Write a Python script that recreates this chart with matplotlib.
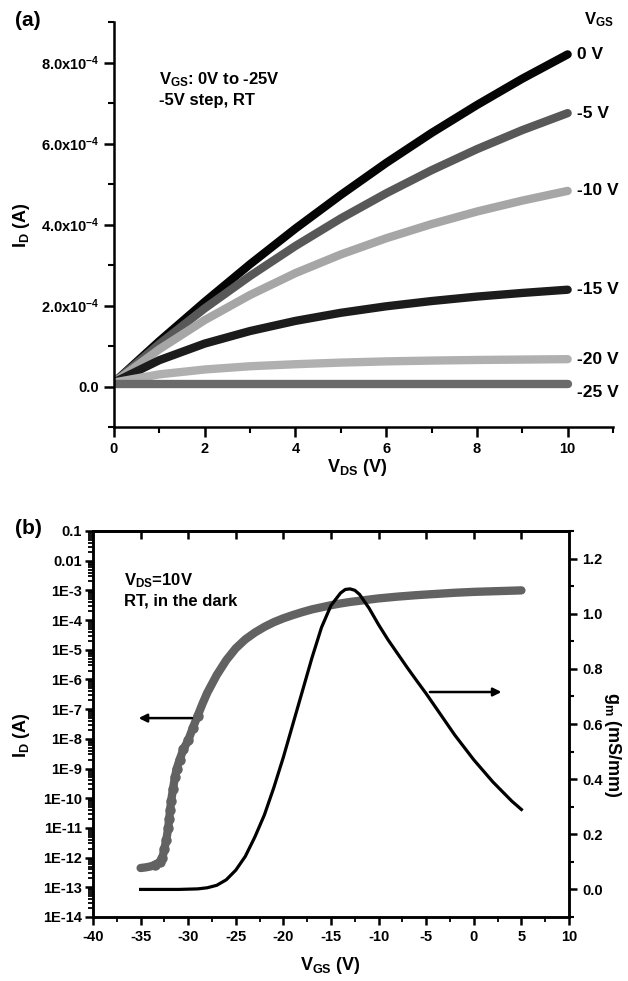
"""
Transistor output (a) and transfer (b) curves
"""
import numpy as np
import matplotlib.pyplot as plt
from matplotlib.ticker import MultipleLocator, FixedLocator, FuncFormatter, LogLocator, NullFormatter

# ---- panel (a): output curves, I_D in units of 1e-4 A ----
vds = [0, 1, 2, 3, 4, 5, 6, 7, 8, 9, 10]
vgs_labels = ["0 V", "-5 V", "-10 V", "-15 V", "-20 V", "-25 V"]
id_0 = [0.1, 1.12, 2.09, 3.02, 3.90, 4.73, 5.52, 6.26, 6.95, 7.60, 8.20]
id_m5 = [0.1, 1.05, 1.93, 2.73, 3.47, 4.15, 4.77, 5.34, 5.86, 6.33, 6.75]
id_m10 = [0.1, 0.92, 1.64, 2.26, 2.80, 3.26, 3.66, 4.01, 4.32, 4.59, 4.83]
id_m15 = [0.1, 0.65, 1.06, 1.37, 1.62, 1.82, 1.98, 2.11, 2.22, 2.31, 2.39]
id_m20 = [0.1, 0.30, 0.42, 0.50, 0.55, 0.59, 0.62, 0.64, 0.655, 0.665, 0.675]
id_m25 = [0.05, 0.05, 0.05, 0.05, 0.05, 0.05, 0.05, 0.05, 0.05, 0.05, 0.05]

# ---- panel (b): transfer curve ----
vgs_id = [-35, -34.5, -34, -33.5, -33, -32.7, -32.5, -32.3, -32.1, -32.0, -31.9,
          -31.8, -31.6, -31.4, -31.2, -30.9, -30.5, -30, -29.5, -29, -28.5, -28,
          -27, -26, -25, -24, -23, -22, -21, -20, -19, -18, -17, -16, -15, -14,
          -13, -12, -10, -8, -6, -4, -2, 0, 2, 4, 5]
log_id = [-12.35, -12.33, -12.30, -12.25, -12.15, -12.0, -11.7, -11.4, -11.0,
          -10.7, -10.4, -10.1, -9.7, -9.3, -9.0, -8.7, -8.35, -8.05, -7.62, -7.22,
          -6.82, -6.45, -5.85, -5.35, -4.95, -4.65, -4.42, -4.23, -4.07, -3.94,
          -3.83, -3.73, -3.64, -3.57, -3.50, -3.44, -3.39, -3.35, -3.27, -3.21,
          -3.16, -3.12, -3.08, -3.05, -3.03, -3.01, -3.0]

vgs_gm = [-35, -33, -31, -29, -28, -27, -26, -25, -24, -23, -22, -21, -20, -19,
          -18, -17, -16, -15, -14, -13.5, -13, -12.5, -12, -11, -10, -9, -8, -7,
          -6, -5, -4, -3, -2, -1, 0, 1, 2, 3, 4, 5]
gm = [0.0, 0.0, 0.0, 0.002, 0.006, 0.015, 0.035, 0.07, 0.12, 0.19, 0.27, 0.37,
      0.48, 0.60, 0.72, 0.84, 0.95, 1.03, 1.075, 1.088, 1.09, 1.085, 1.07, 1.02,
      0.96, 0.905, 0.855, 0.805, 0.757, 0.71, 0.66, 0.61, 0.56, 0.515, 0.47,
      0.43, 0.39, 0.355, 0.32, 0.29]

log_ticks = list(range(-14, 0))
log_tick_labels = ["1E-14", "1E-13", "1E-12", "1E-11", "1E-10", "1E-9", "1E-8",
                   "1E-7", "1E-6", "1E-5", "1E-4", "1E-3", "0.01", "0.1"]

plt.rcParams["font.family"] = ["Liberation Sans", "DejaVu Sans"]
plt.rcParams["font.weight"] = "bold"
plt.rcParams["mathtext.fontset"] = "custom"
plt.rcParams["mathtext.rm"] = "Liberation Sans:bold"
plt.rcParams["mathtext.it"] = "Liberation Sans:bold"
plt.rcParams["mathtext.bf"] = "Liberation Sans:bold"
plt.rcParams["axes.linewidth"] = 1.8

W, H = 628, 981
fig = plt.figure(figsize=(W / 100, H / 100), dpi=100)


def px_box(left, top, right, bottom):
    return [left / W, 1 - bottom / H, (right - left) / W, (bottom - top) / H]


# ================= panel (a) =================
axa = fig.add_axes(px_box(114, 22, 613, 427))
curves = [id_0, id_m5, id_m10, id_m15, id_m20, id_m25]
colors = ["#050505", "#585858", "#a6a6a6", "#1c1c1c", "#b0b0b0", "#6a6a6a"]
scale = 1e-4
for vals, col, lab in zip(curves, colors, vgs_labels):
    y = np.array(vals) * scale
    axa.plot(vds, y, color=col, lw=6, solid_capstyle="round", solid_joinstyle="round")
    dy = -0.2e-4 if lab == "-25 V" else 0.0
    axa.text(10.2, y[-1] + dy, lab, fontsize=12.5, fontweight="bold",
             va="center", ha="left", clip_on=False)
axa.text(10.35, 9.05e-4, "V$_{\\mathrm{GS}}$", fontsize=12, va="center",
         ha="left", clip_on=False)

axa.set_xlim(0, 11)
axa.set_ylim(-1e-4, 9e-4)
axa.spines["top"].set_visible(False)
axa.spines["right"].set_visible(False)
axa.xaxis.set_major_locator(MultipleLocator(2))
axa.xaxis.set_minor_locator(MultipleLocator(1))
axa.yaxis.set_major_locator(FixedLocator([0, 2e-4, 4e-4, 6e-4, 8e-4]))
axa.yaxis.set_minor_locator(MultipleLocator(1e-4))


def fmt_a(v, pos):
    if abs(v) < 1e-12:
        return "0.0"
    return "%.1fx10$^{-4}$" % (v / 1e-4)


axa.yaxis.set_major_formatter(FuncFormatter(fmt_a))
axa.xaxis.set_major_formatter(FuncFormatter(lambda v, p: "%d" % v))
axa.tick_params(which="major", direction="out", length=7, width=1.8, labelsize=10.5)
axa.tick_params(which="minor", direction="out", length=4, width=1.5)
axa.text(0.09, 0.88, "V$_{\\mathrm{GS}}$: 0V to -25V\n-5V step, RT",
         transform=axa.transAxes, fontsize=12, va="top", ha="left", linespacing=1.3)

fig.text(15 / W, 1 - 20 / H, "(a)", fontsize=15, fontweight="bold", va="center")
fig.text(22 / W, 1 - 225 / H, "I$_{\\mathrm{D}}$ (A)", fontsize=13,
         rotation=90, va="center", ha="center")
fig.text(357 / W, 1 - 467 / H, "V$_{\\mathrm{DS}}$ (V)", fontsize=13,
         va="center", ha="center")

# ================= panel (b) =================
axb = fig.add_axes(px_box(93, 531, 569, 917))
id_vals = np.power(10.0, log_id)
axb.plot(vgs_id, id_vals, color="#626262", lw=6, solid_capstyle="round",
         solid_joinstyle="round")
# individual measurement dots stand out only along the steep subthreshold rise
steep = [(v, i) for v, i in zip(vgs_id, id_vals) if -33.5 <= v <= -29]
axb.plot([s[0] for s in steep], [s[1] for s in steep], ls="none", marker="o",
         markersize=6.5, color="#626262")
axb.set_yscale("log")
axb.set_ylim(1e-14, 0.1)
axb.set_xlim(-40, 10)
axb.yaxis.set_major_locator(FixedLocator([10.0 ** k for k in log_ticks]))
axb.yaxis.set_major_formatter(FuncFormatter(
    lambda v, p: log_tick_labels[int(round(np.log10(v))) + 14]))
axb.yaxis.set_minor_locator(LogLocator(base=10, subs=np.arange(2, 10), numticks=30))
axb.yaxis.set_minor_formatter(NullFormatter())
axb.xaxis.set_major_locator(MultipleLocator(5))
axb.xaxis.set_minor_locator(MultipleLocator(2.5))
axb.xaxis.set_major_formatter(FuncFormatter(lambda v, p: "%d" % v))
axb.tick_params(which="major", direction="out", length=6, width=1.8, labelsize=10.5)
axb.tick_params(which="minor", direction="out", length=3.5, width=1.3)
axb.tick_params(axis="y", which="major", pad=2)

top = axb.secondary_xaxis("top")
top.set_xticks(list(range(-35, 10, 5)))
top.tick_params(direction="in", length=6, width=1.8, labeltop=False)

ax2 = axb.twinx()
ax2.plot(vgs_gm, gm, color="black", lw=2.3, solid_joinstyle="round")
ax2.set_ylim(-0.1, 1.3)
ax2.yaxis.set_major_locator(FixedLocator([0.0, 0.2, 0.4, 0.6, 0.8, 1.0, 1.2]))
ax2.yaxis.set_minor_locator(MultipleLocator(0.1))
ax2.yaxis.set_major_formatter(FuncFormatter(lambda v, p: "%.1f" % v))
ax2.tick_params(which="major", direction="out", length=6, width=1.8, labelsize=10.5)
ax2.tick_params(which="minor", direction="out", length=3.5, width=1.5)

# direction arrows
axb.annotate("", xy=(-35.5, 5e-8), xytext=(-29.3, 5e-8),
             arrowprops=dict(arrowstyle="-|>", color="black", lw=1.8,
                             mutation_scale=12))
ax2.annotate("", xy=(3.2, 0.716), xytext=(-4.9, 0.716),
             arrowprops=dict(arrowstyle="-|>", color="black", lw=1.8,
                             mutation_scale=12))

axb.text(0.065, 0.895, "V$_{\\mathrm{DS}}$=10V\nRT, in the dark",
         transform=axb.transAxes, fontsize=12, va="top", ha="left", linespacing=1.25)

fig.text(15 / W, 1 - 528 / H, "(b)", fontsize=15, fontweight="bold", va="center")
fig.text(22 / W, 1 - 735 / H, "I$_{\\mathrm{D}}$ (A)", fontsize=13,
         rotation=90, va="center", ha="center")
fig.text(613 / W, 1 - 745 / H, "g$_{\\mathrm{m}}$ (mS/mm)", fontsize=13,
         rotation=270, va="center", ha="center")
fig.text(330 / W, 1 - 965 / H, "V$_{\\mathrm{GS}}$ (V)", fontsize=13,
         va="center", ha="center")

fig.savefig("out.png", dpi=100)
